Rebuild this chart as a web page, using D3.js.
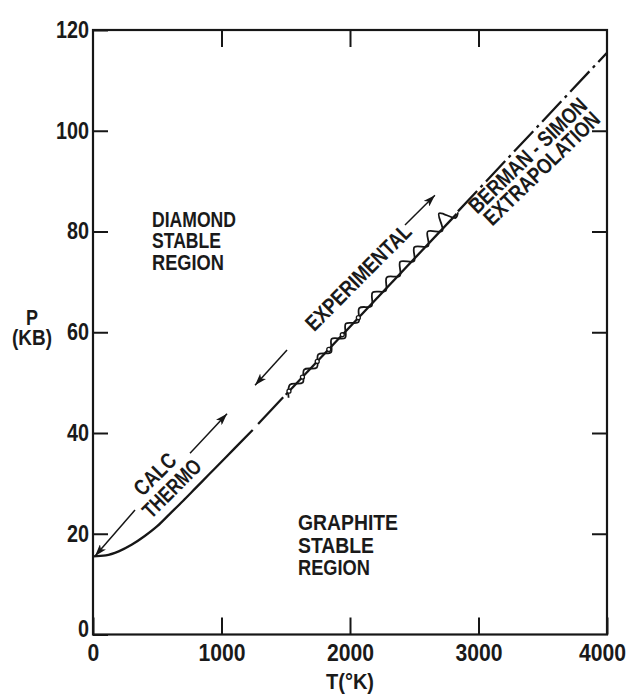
<!DOCTYPE html>
<html lang="en">
<head>
<meta charset="UTF-8">
<title>Graphite - diamond equilibrium</title>
<script src="https://d3js.org/d3.v7.min.js"></script>
<style>
    body { margin: 0; background: #fff; }
    svg text { font-family: "Liberation Sans", Arial, sans-serif; font-weight: bold; fill: #1a1a1a; }
    .frame { fill: none; stroke: #161616; stroke-width: 2.2px; }
    .axis path { display: none; }
    .axis line { stroke: #161616; stroke-width: 2px; }
    .axis text { font-size: 23px; }
    .curve { fill: none; stroke: #161616; stroke-width: 2.3px; }
    .wave { fill: none; stroke: #161616; stroke-width: 1.8px; }
    .arrow { stroke: #161616; stroke-width: 1.5px; }
    .label { font-size: 22px; }
</style>
</head>
<body>
<svg id="chart" width="633" height="695"></svg>
<script>
// axis ticks
const tempTicks = [0, 1000, 2000, 3000, 4000];
const presTicks = [0, 20, 40, 60, 80, 100, 120];

// calculated thermodynamic curve (T in K, P in kbar)
const calcT = [0, 100, 200, 300, 400, 500, 600, 700, 800, 900, 1000, 1100, 1243];
const calcP = [15.5, 15.7, 16.5, 17.8, 19.5, 21.5, 24.0, 26.5, 29.1, 31.7, 34.3, 36.9, 40.6];

// single dash between the calc curve and the experimental band
const dashT = [1285, 1480];
const dashP = [41.8, 47.1];

// experimental band: trend line plus the wavy trace around it
const expLineT = [1500, 2830];
const expLineP = [47.6, 83.5];
const expWaveT = [1522, 1533, 1632, 1643, 1742, 1753, 1852, 1857, 1962, 1967, 2066, 2072, 2168,
                  2176, 2278, 2286, 2388, 2391, 2498, 2501, 2608, 2605, 2718, 2693, 2821, 2840];
const expWaveP = [47.0, 49.6, 50.0, 52.6, 53.0, 55.6, 56.0, 58.7, 58.9, 61.7, 62.0, 64.8, 65.2,
                  67.9, 68.2, 70.9, 71.2, 74.0, 74.1, 76.9, 77.1, 80.0, 80.1, 83.6, 82.7, 83.8];
const expPointT = [1525, 1630, 1745, 1835, 1940, 2065];
const expPointP = [48.3, 51.1, 54.2, 56.6, 59.5, 62.9];

// Berman-Simon extrapolation
const bsT = [2840, 4000];
const bsP = [84.0, 115.5];

// arrows: [tail, head] pairs
const calcArrowLowT = [327, 16],   calcArrowLowP = [24.7, 15.6];
const calcArrowUpT = [755, 1043],  calcArrowUpP = [36.0, 43.8];
const expArrowLowT = [1510, 1261], expArrowLowP = [56.5, 49.5];
const expArrowUpT = [2428, 2661],  expArrowUpP = [81.3, 87.2];

const svg = d3.select('#chart');
const margin = { top: 30, right: 26, bottom: 60.5, left: 93 };
const width = 633, height = 695;

const x = d3.scaleLinear().domain([0, 4000]).range([margin.left, width - margin.right]);
const y = d3.scaleLinear().domain([0, 120]).range([height - margin.bottom, margin.top]);

const zip = (ts, ps) => ts.map((t, i) => [t, ps[i]]);
const line = d3.line().x(d => x(d[0])).y(d => y(d[1]));

// squeeze a text to the lettering width of the original
function fit(sel, w) {
    sel.each(function () {
        const el = d3.select(this);
        const target = typeof w === 'function' ? w(this.getComputedTextLength()) : w;
        el.attr('textLength', target).attr('lengthAdjust', 'spacingAndGlyphs');
    });
}

// arrow head marker
svg.append('defs').append('marker')
    .attr('id', 'head')
    .attr('viewBox', '0 0 12 8')
    .attr('refX', 12).attr('refY', 4)
    .attr('markerUnits', 'userSpaceOnUse')
    .attr('markerWidth', 12).attr('markerHeight', 8)
    .attr('orient', 'auto')
    .append('path')
    .attr('d', 'M0,0 L12,4 L0,8 L3,4 Z')
    .attr('fill', '#161616');

// frame
svg.append('rect')
    .attr('class', 'frame')
    .attr('x', x(0)).attr('y', y(120))
    .attr('width', x(4000) - x(0)).attr('height', y(0) - y(120));

// axes with inward ticks
const xAxis = svg.append('g').attr('class', 'axis')
    .attr('transform', `translate(0,${y(0)})`)
    .call(d3.axisBottom(x).tickValues(tempTicks).tickSize(-17).tickPadding(10).tickFormat(d3.format('d')));
const yAxis = svg.append('g').attr('class', 'axis')
    .attr('transform', `translate(${x(0)},0)`)
    .call(d3.axisLeft(y).tickValues(presTicks).tickSize(-15).tickPadding(4).tickFormat(d3.format('d')));
svg.append('g').attr('class', 'axis')
    .attr('transform', `translate(0,${y(120)})`)
    .call(d3.axisTop(x).tickValues(tempTicks.slice(1, -1)).tickSize(-17).tickFormat(''));
svg.append('g').attr('class', 'axis')
    .attr('transform', `translate(${x(4000)},0)`)
    .call(d3.axisRight(y).tickValues(presTicks.slice(1, -1)).tickSize(-15).tickFormat(''));
fit(xAxis.selectAll('text'), n => n * 0.92);
fit(yAxis.selectAll('text'), n => n * 0.86);
xAxis.selectAll('.tick').filter(d => d === 4000).select('text').attr('dx', -5);
yAxis.selectAll('.tick').filter(d => d === 0).select('text').attr('dy', '0.1em');

// plain labels: [text, x, baseline y, width]
function label(s, px, py, w, anchor) {
    const t = svg.append('text').attr('class', 'label')
        .attr('x', px).attr('y', py).attr('text-anchor', anchor || 'start').text(s);
    fit(t, w);
}
label('P', 32, 325, 12, 'middle');
label('(KB)', 32, 345, 40, 'middle');
label('T(°K)', 350, 689, 48, 'middle');
label('DIAMOND', 152, 226.5, 84);
label('STABLE', 152, 248.2, 69);
label('REGION', 152, 270, 72);
label('GRAPHITE', 298, 530, 100);
label('STABLE', 298, 552.5, 76);
label('REGION', 298, 575, 72);

// curves
svg.append('path').attr('class', 'curve')
    .attr('d', line.curve(d3.curveMonotoneX)(zip(calcT, calcP)));
line.curve(d3.curveLinear);
svg.append('path').attr('class', 'curve').attr('d', line(zip(dashT, dashP)));
svg.append('path').attr('class', 'curve').attr('d', line(zip(expLineT, expLineP)));
svg.append('path').attr('class', 'wave')
    .attr('d', d3.line().x(d => x(d[0])).y(d => y(d[1])).curve(d3.curveCatmullRom.alpha(0.5))(zip(expWaveT, expWaveP)));
svg.append('g').selectAll('circle')
    .data(zip(expPointT, expPointP))
    .join('circle')
    .attr('cx', d => x(d[0])).attr('cy', d => y(d[1])).attr('r', 2)
    .attr('fill', '#fff').attr('stroke', '#161616').attr('stroke-width', 1.3);
svg.append('path').attr('class', 'curve')
    .attr('stroke-dasharray', '28 5 3 5')
    .attr('d', line(zip(bsT, bsP)));

// arrows
[[calcArrowLowT, calcArrowLowP], [calcArrowUpT, calcArrowUpP],
 [expArrowLowT, expArrowLowP], [expArrowUpT, expArrowUpP]].forEach(([ts, ps]) => {
    svg.append('line').attr('class', 'arrow')
        .attr('x1', x(ts[0])).attr('y1', y(ps[0]))
        .attr('x2', x(ts[1])).attr('y2', y(ps[1]))
        .attr('marker-end', 'url(#head)');
});

// rotated labels along the curve: [text, dx, dy, width]
function slanted(cx, cy, angle, lines) {
    const g = svg.append('g').attr('transform', `translate(${cx},${cy}) rotate(${angle})`);
    lines.forEach(([s, dx, dy, w]) => {
        const t = g.append('text').attr('class', 'label')
            .attr('x', dx).attr('y', dy).attr('text-anchor', 'middle').text(s);
        fit(t, w);
    });
}
slanted(163, 481, -45, [['CALC', -1, -3, 50], ['THERMO', 1, 19, 73]]);
slanted(358, 277, -45, [['EXPERIMENTAL', 0, 8, 140]]);
slanted(534, 162, -44, [['BERMAN - SIMON', 0, -1.5, 155], ['EXTRAPOLATION', 1, 17.5, 152]]);
</script>
</body>
</html>
